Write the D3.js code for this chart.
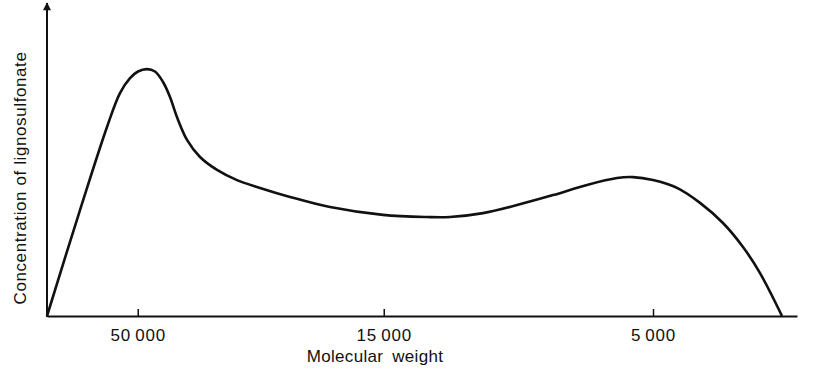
<!DOCTYPE html>
<html>
<head>
<meta charset="utf-8">
<script src="https://cdn.jsdelivr.net/npm/d3@7"></script>
<style>
  body { margin: 0; background: #fff; }
  text { font-family: "Liberation Sans", "DejaVu Sans", sans-serif; fill: #111; }
</style>
</head>
<body>
<script>
// elution position (relative, 0..100) and concentration (relative, 0..100)
var elution = [0, 4.4, 8.0, 9.73, 11.07, 12.13, 13.33, 14.4, 15.47, 16.4, 17.33, 18.67, 20.4, 22.67, 25.33, 28.4, 32.4, 37.73, 44.8, 50.67, 53.73, 58.13, 62.67, 67.47, 72.0, 76.0, 78.13, 80.8, 84.0, 87.07, 90.13, 92.8, 95.07, 98.0];
var concentration = [0, 35.3, 63.0, 74.3, 79.3, 81.5, 82.3, 81.5, 78.0, 73.0, 66.3, 58.7, 53.0, 48.7, 45.3, 42.7, 39.7, 36.3, 33.7, 33.0, 33.0, 34.3, 37.0, 40.3, 43.7, 46.0, 46.3, 45.3, 42.7, 37.7, 31.0, 23.0, 14.3, 0];

// molecular weight tick marks along the elution axis
var tickPos = [12.1, 44.9, 80.8];
var tickLabels = ["50\u2009000", "15\u2009000", "5\u2009000"];

var xTitle = "Molecular weight";
var yTitle = "Concentration of lignosulfonate";

var W = 816, H = 370;
// note: "top" is taken by window.top, so plot edges get their own names
var plotL = 47, plotR = 797, plotB = 316, plotT = 16;

var svg = d3.select("body").append("svg")
	.attr("width", W)
	.attr("height", H);

var x = d3.scaleLinear().domain([0, 100]).range([plotL, plotR]);
var y = d3.scaleLinear().domain([0, 100]).range([plotB, plotT]);

// arrow head for the y axis
svg.append("defs").append("marker")
	.attr("id", "arrow")
	.attr("viewBox", "0 0 10 10")
	.attr("refX", 9)
	.attr("refY", 5)
	.attr("markerUnits", "userSpaceOnUse")
	.attr("markerWidth", 14)
	.attr("markerHeight", 8)
	.attr("orient", "auto")
	.append("path")
	.attr("d", "M0,0 L10,5 L0,10 Z")
	.attr("fill", "#111");

// x axis, ticks pointing up
var xAxis = d3.axisBottom(x)
	.tickValues(tickPos)
	.tickFormat(function(d, i) { return tickLabels[i]; })
	.tickSizeInner(-7)
	.tickSizeOuter(0)
	.tickPadding(13);

var gx = svg.append("g")
	.attr("transform", "translate(0," + plotB + ")")
	.call(xAxis);
gx.select(".domain").attr("stroke", "#111").attr("stroke-width", 2);
gx.selectAll(".tick line").attr("stroke", "#111").attr("stroke-width", 1.5);
gx.selectAll(".tick text")
	.attr("fill", "#111")
	.style("font-size", "17px")
	.style("letter-spacing", "0.8px")
	.style("font-family", "Liberation Sans, DejaVu Sans, sans-serif");

// y axis: plain line with arrow
svg.append("line")
	.attr("x1", plotL).attr("y1", plotB + 1)
	.attr("x2", plotL).attr("y2", 3)
	.attr("stroke", "#111")
	.attr("stroke-width", 2)
	.attr("marker-end", "url(#arrow)");

// curve
var curve = d3.line()
	.x(function(d, i) { return x(elution[i]); })
	.y(function(d, i) { return y(concentration[i]); })
	.curve(d3.curveCatmullRom.alpha(0.5));

svg.append("path")
	.datum(elution)
	.attr("d", curve)
	.attr("fill", "none")
	.attr("stroke", "#111")
	.attr("stroke-width", 2.6)
	.attr("stroke-linejoin", "round");

// axis titles
svg.append("text")
	.attr("x", 375)
	.attr("y", 362)
	.attr("text-anchor", "middle")
	.style("font-size", "17px")
	.style("word-spacing", "4px")
	.style("letter-spacing", "0.3px")
	.text(xTitle);

svg.append("text")
	.attr("transform", "translate(26,178) rotate(-90)")
	.attr("text-anchor", "middle")
	.style("font-size", "17px")
	.style("letter-spacing", "0.6px")
	.text(yTitle);
</script>
</body>
</html>
